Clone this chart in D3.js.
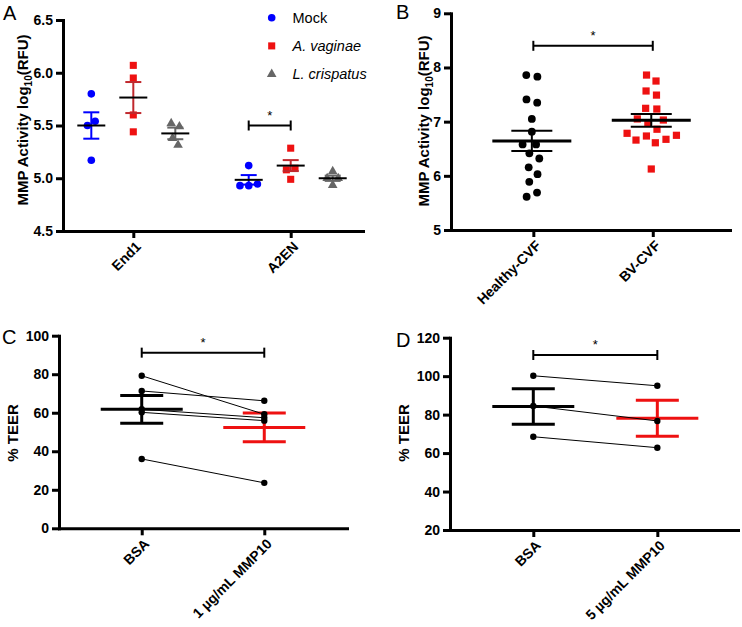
<!DOCTYPE html>
<html><head><meta charset="utf-8">
<script src="https://cdn.jsdelivr.net/npm/d3@7"></script>
<style>
body{margin:0;background:#fff;}
svg{display:block;}
</style></head><body>
<svg id="chart" width="742" height="627"></svg>
<script>
// ---------- Panel A data ----------
const aCategories = ["End1", "A2EN"];
const aSeries = ["Mock", "A. vaginae", "L. crispatus"];
const aPoints = {
  "End1": {
    "Mock": [5.80, 5.54, 5.50, 5.17],
    "A. vaginae": [6.07, 5.95, 5.60, 5.44],
    "L. crispatus": [5.52, 5.49, 5.38, 5.315]
  },
  "A2EN": {
    "Mock": [5.12, 4.945, 4.93, 4.93],
    "A. vaginae": [5.285, 5.095, 5.08, 4.99],
    "L. crispatus": [5.065, 5.0, 5.0, 4.935]
  }
};
const aMeanEnd1 = [5.50, 5.765, 5.425];
const aSemEnd1 = [0.125, 0.147, 0.055];
const aMeanA2EN = [4.985, 5.12, 5.0];
const aSemA2EN = [0.045, 0.052, 0.025];
const aYTicks = [4.5, 5.0, 5.5, 6.0, 6.5];
const aBracket = {from: ["A2EN", "Mock"], to: ["A2EN", "A. vaginae"], value: 5.5, label: "*"};

// ---------- Panel B data ----------
const bCategories = ["Healthy-CVF", "BV-CVF"];
const bHealthy = [7.86, 7.83, 7.41, 7.35, 7.05, 6.815, 6.58, 6.58, 6.415, 6.32, 6.157, 6.03, 5.89, 5.69, 5.614];
const bBV = [7.86, 7.75, 7.566, 7.49, 7.246, 7.233, 7.05, 7.03, 6.98, 6.86, 6.785, 6.748, 6.735, 6.674, 6.66, 6.61, 6.126];
const bMeans = [6.645, 7.025];
const bSems = [0.185, 0.117];
const bYTicks = [5, 6, 7, 8, 9];
const bBracketValue = 8.4;

// ---------- Panel C data ----------
const cCategories = ["BSA", "1 µg/mL MMP10"];
const cBSA = [79.2, 71.3, 61.8, 60.2, 36.0];
const cMMP = [59.2, 66.2, 57.4, 55.9, 23.6];
const cMeans = [61.8, 52.4];
const cSems = [7.2, 7.45];
const cYTicks = [0, 20, 40, 60, 80, 100];
const cBracketValue = 91.2;

// ---------- Panel D data ----------
const dCategories = ["BSA", "5 µg/mL MMP10"];
const dBSA = [100.2, 84.5, 68.5];
const dMMP = [95.0, 76.7, 62.8];
const dMeans = [84.2, 78.1];
const dSems = [9.2, 9.35];
const dYTicks = [20, 40, 60, 80, 100, 120];
const dBracketValue = 111.0;

// ---------- styles ----------
const FONT = '"Liberation Sans", Arial, Helvetica, sans-serif';
const BLUE = "#0000ff", RED = "#ee1111", DARKRED = "#c0282d", GRAY = "#666666";
const seriesColor = {"Mock": BLUE, "A. vaginae": RED, "L. crispatus": GRAY};
const semColor = {"Mock": BLUE, "A. vaginae": DARKRED, "L. crispatus": GRAY};

const svg = d3.select("#chart");

function makePanel(cfg) {
  const x = d3.scalePoint().domain(cfg.cats).range([cfg.x0, cfg.x1]).padding(cfg.pad).align(cfg.align);
  const y = d3.scaleLinear().domain(cfg.yDomain).range([cfg.yBot, cfg.yTop]);
  const g = svg.append("g");
  const ya = g.append("g").attr("transform", `translate(${cfg.x0},0)`)
    .call(d3.axisLeft(y).tickValues(cfg.yTicks).tickFormat(cfg.fmt).tickSize(7).tickSizeOuter(0).tickPadding(3));
  const xa = g.append("g").attr("transform", `translate(0,${cfg.yBot})`)
    .call(d3.axisBottom(x).tickSize(7).tickSizeOuter(0).tickFormat(""));
  [ya, xa].forEach(a => {
    a.select(".domain").attr("stroke", "#000").attr("stroke-width", 3).attr("stroke-linecap", "square");
    a.selectAll(".tick line").attr("stroke", "#000").attr("stroke-width", 3);
  });
  ya.selectAll("text").attr("font-family", FONT).attr("font-size", 14).attr("font-weight", "bold").attr("fill", "#000");
  g.selectAll(".xl").data(cfg.cats).join("text")
    .attr("transform", d => `translate(${x(d) + 5},${cfg.yBot + 13}) rotate(-45)`)
    .attr("text-anchor", "end").attr("dy", "0.35em")
    .attr("font-family", FONT).attr("font-size", 14).attr("font-weight", "bold")
    .text(d => d);
  // y title
  const t = g.append("text")
    .attr("transform", `translate(${cfg.titleX},${cfg.titleY}) rotate(-90)`)
    .attr("text-anchor", "middle").attr("dy", "0.35em")
    .attr("font-family", FONT).attr("font-size", 15).attr("font-weight", "bold");
  if (cfg.log) {
    t.append("tspan").text("MMP Activity log");
    t.append("tspan").attr("font-size", 10).attr("dy", "4").text("10");
    t.append("tspan").attr("dy", "-4").text("(RFU)");
  } else {
    t.text(cfg.title);
  }
  // panel letter
  g.append("text").attr("x", cfg.letterX).attr("y", cfg.letterY)
    .attr("font-family", FONT).attr("font-size", 20).text(cfg.letter);
  return {x, y, g};
}

function swarm(values, cx, y, r) {
  const nodes = values.map((v, i) => ({v, fy: y(v), y: y(v), x: cx + (i % 2 ? 1 : -1)}));
  const sim = d3.forceSimulation(nodes)
    .force("x", d3.forceX(cx).strength(0.15))
    .force("c", d3.forceCollide(r).iterations(4))
    .stop();
  for (let i = 0; i < 300; i++) sim.tick();
  return nodes;
}

function meanSem(g, y, cx, mean, sem, halfMean, halfCap, meanColor, barColor, meanW, barW) {
  g.append("line").attr("x1", cx).attr("x2", cx).attr("y1", y(mean + sem)).attr("y2", y(mean - sem))
    .attr("stroke", barColor).attr("stroke-width", barW);
  [mean + sem, mean - sem].forEach(v => {
    g.append("line").attr("x1", cx - halfCap).attr("x2", cx + halfCap).attr("y1", y(v)).attr("y2", y(v))
      .attr("stroke", barColor).attr("stroke-width", barW);
  });
  g.append("line").attr("x1", cx - halfMean).attr("x2", cx + halfMean).attr("y1", y(mean)).attr("y2", y(mean))
    .attr("stroke", meanColor).attr("stroke-width", meanW);
}

function bracket(g, x1, x2, yy, label) {
  g.append("line").attr("x1", x1).attr("x2", x2).attr("y1", yy).attr("y2", yy).attr("stroke", "#000").attr("stroke-width", 2);
  [x1, x2].forEach(xx => g.append("line").attr("x1", xx).attr("x2", xx).attr("y1", yy - 5).attr("y2", yy + 5)
    .attr("stroke", "#000").attr("stroke-width", 2));
  g.append("text").attr("x", (x1 + x2) / 2).attr("y", yy - 6).attr("text-anchor", "middle")
    .attr("font-family", FONT).attr("font-size", 13).text(label);
}

function marker(g, type, cx, cy, color) {
  if (type === "Mock") {
    g.append("circle").attr("cx", cx).attr("cy", cy).attr("r", 3.8).attr("fill", color);
  } else {
    const sym = type === "A. vaginae" ? d3.symbolSquare : d3.symbolTriangle;
    const size = type === "A. vaginae" ? 50 : 40;
    g.append("path").attr("d", d3.symbol().type(sym).size(size)())
      .attr("transform", `translate(${cx},${cy})`).attr("fill", color);
  }
}

// ---------- Panel A ----------
{
  const P = makePanel({cats: aCategories, x0: 63, x1: 363, pad: 0.453, align: 0.493,
    yDomain: [4.5, 6.5], yTop: 20, yBot: 231, yTicks: aYTicks, fmt: d3.format(".1f"),
    log: true, titleX: 22.5, titleY: 120, letter: "A", letterX: 3, letterY: 19.5});
  const {x, y, g} = P;
  const x1 = d3.scalePoint().domain(aSeries).range([-42, 42]);
  aCategories.forEach(cat => {
    aSeries.forEach(s => {
      const cx = x(cat) + x1(s);
      swarm(aPoints[cat][s], cx, y, 4.4).forEach(n => marker(g, s, n.x, n.fy, seriesColor[s]));
    });
    const means = cat === "End1" ? aMeanEnd1 : aMeanA2EN;
    const sems = cat === "End1" ? aSemEnd1 : aSemA2EN;
    aSeries.forEach((s, i) => meanSem(g, y, x(cat) + x1(s), means[i], sems[i], 14, 8, "#000", semColor[s], 2, 2));
  });
  bracket(g, x(aBracket.from[0]) + x1(aBracket.from[1]), x(aBracket.to[0]) + x1(aBracket.to[1]), y(aBracket.value), aBracket.label);
  // legend
  aSeries.forEach((s, i) => {
    const ly = 17.7 + i * 28.2;
    marker(g, s, 271.7, ly, seriesColor[s]);
    g.append("text").attr("x", 292.5).attr("y", ly).attr("dy", "0.35em")
      .attr("font-family", FONT).attr("font-size", 14.5)
      .attr("font-style", i === 0 ? "normal" : "italic").text(s);
  });
}

// ---------- Panel B ----------
{
  const {x, y, g} = makePanel({cats: bCategories, x0: 451, x1: 730, pad: 0.668, align: 0.516,
    yDomain: [5, 9], yTop: 13.3, yBot: 230, yTicks: bYTicks, fmt: d3.format("d"),
    log: true, titleX: 424, titleY: 121, letter: "B", letterX: 396, letterY: 18.5});
  swarm(bHealthy, x(bCategories[0]) - 1.5, y, 5.6).forEach(n =>
    g.append("circle").attr("cx", n.x).attr("cy", n.fy).attr("r", 3.9).attr("fill", "#000"));
  swarm(bBV, x(bCategories[1]) - 1.5, y, 5.6).forEach(n =>
    g.append("path").attr("d", d3.symbol().type(d3.symbolSquare).size(52)())
      .attr("transform", `translate(${n.x},${n.fy})`).attr("fill", RED));
  bCategories.forEach((c, i) => meanSem(g, y, x(c) - 1.5, bMeans[i], bSems[i], 39.5, 20.5, "#000", "#000", 3, 2));
  bracket(g, x(bCategories[0]), x(bCategories[1]), y(bBracketValue), "*");
}

// ---------- Panels C & D ----------
function pairedPanel(cfg, bsa, mmp, means, sems, bracketValue) {
  const {x, y, g} = makePanel(cfg);
  const xa = x(cfg.cats[0]), xb = x(cfg.cats[1]);
  meanSem(g, y, xa, means[0], sems[0], 41, 21.5, "#000", "#000", 3, 3);
  meanSem(g, y, xb, means[1], sems[1], 41, 21.5, RED, RED, 3, 3);
  bsa.forEach((v, i) => {
    g.append("line").attr("x1", xa).attr("x2", xb).attr("y1", y(v)).attr("y2", y(mmp[i]))
      .attr("stroke", "#000").attr("stroke-width", 1);
  });
  bsa.forEach(v => g.append("circle").attr("cx", xa).attr("cy", y(v)).attr("r", 3.2).attr("fill", "#000"));
  mmp.forEach(v => g.append("circle").attr("cx", xb).attr("cy", y(v)).attr("r", 3.2).attr("fill", "#000"));
  bracket(g, xa, xb, y(bracketValue), "*");
}

pairedPanel({cats: cCategories, x0: 59, x1: 347, pad: 0.675, align: 0.5,
  yDomain: [0, 100], yTop: 335.7, yBot: 528.3, yTicks: cYTicks, fmt: d3.format("d"),
  title: "% TEER", titleX: 12.5, titleY: 433, letter: "C", letterX: 2, letterY: 343.5},
  cBSA, cMMP, cMeans, cSems, cBracketValue);

pairedPanel({cats: dCategories, x0: 450, x1: 738, pad: 0.661, align: 0.508,
  yDomain: [20, 120], yTop: 337.7, yBot: 530, yTicks: dYTicks, fmt: d3.format("d"),
  title: "% TEER", titleX: 404, titleY: 433, letter: "D", letterX: 396, letterY: 346.5},
  dBSA, dMMP, dMeans, dSems, dBracketValue);
</script>
</body></html>
